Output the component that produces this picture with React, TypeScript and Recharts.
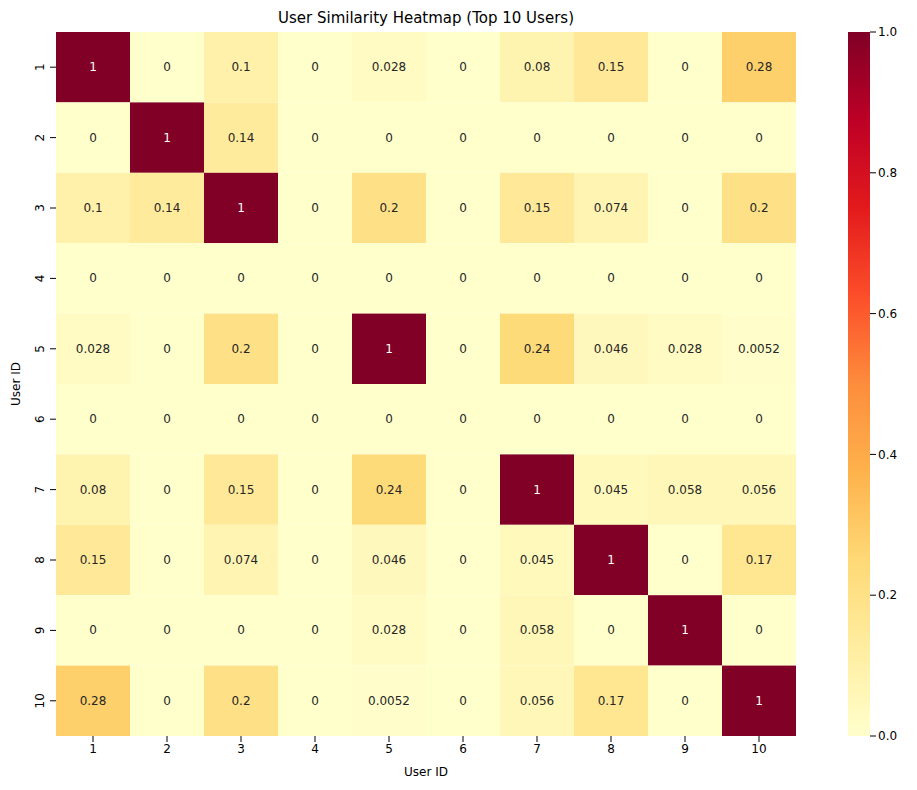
import React from "react";
import { ScatterChart, Scatter, XAxis, YAxis, BarChart, Bar } from "recharts";

const users = [1, 2, 3, 4, 5, 6, 7, 8, 9, 10];
const row1 = [1, 0, 0.1, 0, 0.028, 0, 0.08, 0.15, 0, 0.28];
const row2 = [0, 1, 0.14, 0, 0, 0, 0, 0, 0, 0];
const row3 = [0.1, 0.14, 1, 0, 0.2, 0, 0.15, 0.074, 0, 0.2];
const row4 = [0, 0, 0, 0, 0, 0, 0, 0, 0, 0];
const row5 = [0.028, 0, 0.2, 0, 1, 0, 0.24, 0.046, 0.028, 0.0052];
const row6 = [0, 0, 0, 0, 0, 0, 0, 0, 0, 0];
const row7 = [0.08, 0, 0.15, 0, 0.24, 0, 1, 0.045, 0.058, 0.056];
const row8 = [0.15, 0, 0.074, 0, 0.046, 0, 0.045, 1, 0, 0.17];
const row9 = [0, 0, 0, 0, 0.028, 0, 0.058, 0, 1, 0];
const row10 = [0.28, 0, 0.2, 0, 0.0052, 0, 0.056, 0.17, 0, 1];
const rows = [row1, row2, row3, row4, row5, row6, row7, row8, row9, row10];
const cbTicks = [0, 0.2, 0.4, 0.6, 0.8, 1];

const stops = ["#ffffcc", "#ffeda0", "#fed976", "#feb24c", "#fd8d3c", "#fc4e2a", "#e31a1c", "#bd0026", "#800026"];
function hex(h: string) { return [1, 3, 5].map(i => parseInt(h.slice(i, i + 2), 16)); }
function color(v: number) {
  const t = Math.max(0, Math.min(1, v)) * (stops.length - 1);
  const i = Math.min(Math.floor(t), stops.length - 2);
  const f = t - i;
  const a = hex(stops[i]), b = hex(stops[i + 1]);
  const c = a.map((x, k) => Math.round(x + (b[k] - x) * f));
  return `rgb(${c[0]},${c[1]},${c[2]})`;
}

const data = rows.flatMap((r, yi) => r.map((v, xi) => ({ x: users[xi], y: users[yi], v })));

const W = 917, H = 790;
const M = { top: 32, right: 121, bottom: 24, left: 16 };
const YW = 40, XH = 30;
const cellW = (W - M.left - M.right - YW) / 10;
const cellH = (H - M.top - M.bottom - XH) / 10;
const font = "DejaVu Sans, sans-serif";

const Cell = (p: any) => {
  const { cx, cy, payload } = p;
  const v = payload.v;
  return (
    <g>
      <rect x={cx - cellW / 2} y={cy - cellH / 2} width={cellW} height={cellH} fill={color(v)} />
      <text x={cx} y={cy} textAnchor="middle" dominantBaseline="central" fontSize={12} fontFamily={font}
        fill={v > 0.6 ? "#ffffff" : "#262626"}>{String(v)}</text>
    </g>
  );
};

export default function App() {
  return (
    <div style={{ position: "absolute", left: 0, top: 0, width: W, height: H, background: "#fff", fontFamily: font }}>
      <ScatterChart width={W} height={H} margin={M}>
        <XAxis type="number" dataKey="x" domain={[0.5, 10.5]} ticks={users} height={XH} interval={0}
          tick={{ fontSize: 12, fill: "#000", fontFamily: font }} tickLine={{ stroke: "#000" }} axisLine={false} />
        <YAxis type="number" dataKey="y" domain={[0.5, 10.5]} ticks={users} reversed width={YW} interval={0}
          tick={(p: any) => (
            <text x={p.x - 4} y={p.y} transform={`rotate(-90 ${p.x - 4} ${p.y})`} textAnchor="middle" fontSize={12}
              fontFamily={font} fill="#000">{p.payload.value}</text>
          )} tickLine={{ stroke: "#000" }} axisLine={false} />
        <Scatter data={data} shape={Cell} isAnimationActive={false} />
        <text x={426} y={18} textAnchor="middle" dominantBaseline="central" fontSize={15} fontFamily={font}>User Similarity Heatmap (Top 10 Users)</text>
        <text x={426} y={772} textAnchor="middle" dominantBaseline="central" fontSize={12} fontFamily={font}>User ID</text>
        <text x={16} y={384} textAnchor="middle" dominantBaseline="central" fontSize={12} fontFamily={font} transform="rotate(-90 16 384)">User ID</text>
      </ScatterChart>
      <div style={{ position: "absolute", left: 848, top: 22 }}>
        <BarChart width={70} height={724} data={[{ v: 1 }]} margin={{ top: 10, right: 0, bottom: 10, left: 0 }} barCategoryGap={0}>
          <defs>
            <linearGradient id="cb" x1="0" y1="1" x2="0" y2="0">
              {stops.map((s, i) => <stop key={i} offset={i / (stops.length - 1)} stopColor={s} />)}
            </linearGradient>
          </defs>
          <XAxis hide dataKey="v" />
          <YAxis orientation="right" domain={[0, 1]} ticks={cbTicks} width={48} axisLine={false}
            tickFormatter={(v: number) => v.toFixed(1)} tick={{ fontSize: 12, fill: "#000", fontFamily: font }} tickLine={{ stroke: "#000" }} />
          <Bar dataKey="v" fill="url(#cb)" isAnimationActive={false} />
        </BarChart>
      </div>
    </div>
  );
}
